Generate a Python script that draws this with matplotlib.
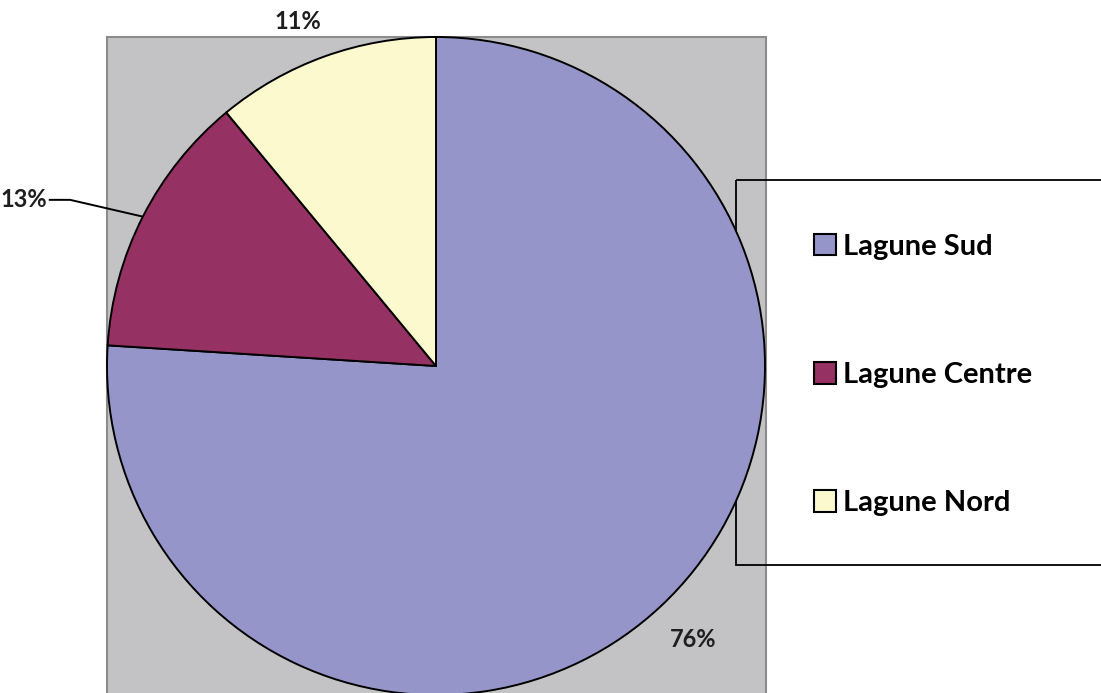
import matplotlib
matplotlib.use("Agg")
import matplotlib.pyplot as plt
from matplotlib.patches import Rectangle
import numpy as np

labels = ["Lagune Sud", "Lagune Centre", "Lagune Nord"]
values = [76, 13, 11]
colors = ["#9595CA", "#963163", "#FBF9CD"]

W, H = 1101, 693
fig = plt.figure(figsize=(W / 100, H / 100), dpi=100)
fig.patch.set_facecolor("white")

FONT = "Lato"

# plot area background
bg = fig.add_axes([0, 0, 1, 1], zorder=-5)
bg.set_xlim(0, W)
bg.set_ylim(H, 0)
bg.axis("off")
bg.add_patch(Rectangle((107, 37), 659, H, facecolor="#C3C3C5",
                       edgecolor="#8C8C8C", linewidth=1.5))

cx, cy, R = 436, 366, 329
ax = fig.add_axes([(cx - R) / W, (H - cy - R) / H, 2 * R / W, 2 * R / H], zorder=1)
ax.axis("off")
ax.patch.set_alpha(0)

wedges, _ = ax.pie(values, colors=colors, startangle=90, counterclock=False,
                   radius=1, wedgeprops=dict(edgecolor="black", linewidth=1.4))
ax.set_xlim(-1, 1)
ax.set_ylim(-1, 1)
ax.set_aspect("equal")
for w in wedges:
    w.set_clip_on(False)

# percentage labels
pct = [f"{v}%" for v in values]
tkw = dict(fontsize=17, fontweight="bold", family=FONT, color="#1E1E1E", clip_on=False)
ax.text(0.781, -0.830, pct[0], ha="center", va="center", **tkw)
ax.text(-0.42, 1.046, pct[2], ha="center", va="center", **tkw)
# Centre label with leader line
w = wedges[1]
mid = np.deg2rad((w.theta1 + w.theta2) / 2)
px, py = np.cos(mid), np.sin(mid)
lx, ly = -1.182, 0.505
ax.plot([lx + 0.005, -1.112, px], [ly, ly, py], color="black", lw=1.4,
        clip_on=False, solid_capstyle="butt")
ax.text(lx, ly, pct[1], ha="right", va="center", **tkw)

# legend box
bg.add_patch(Rectangle((736, 180), 400, 385, facecolor="none",
                       edgecolor="black", linewidth=1.3, zorder=5))

leg = fig.legend(wedges, labels, loc="center left",
                 bbox_to_anchor=(814 / W, (H - 375) / H),
                 frameon=False, prop=dict(family=FONT, weight="bold", size=21),
                 handlelength=0.75, handleheight=0.75, handletextpad=0.25,
                 labelspacing=3.5, borderpad=0, borderaxespad=0)
leg.set_zorder(10)
for h in leg.legend_handles:
    h.set_linewidth(1.5)
    h.set_edgecolor("black")

fig.savefig("out.png", dpi=100)
